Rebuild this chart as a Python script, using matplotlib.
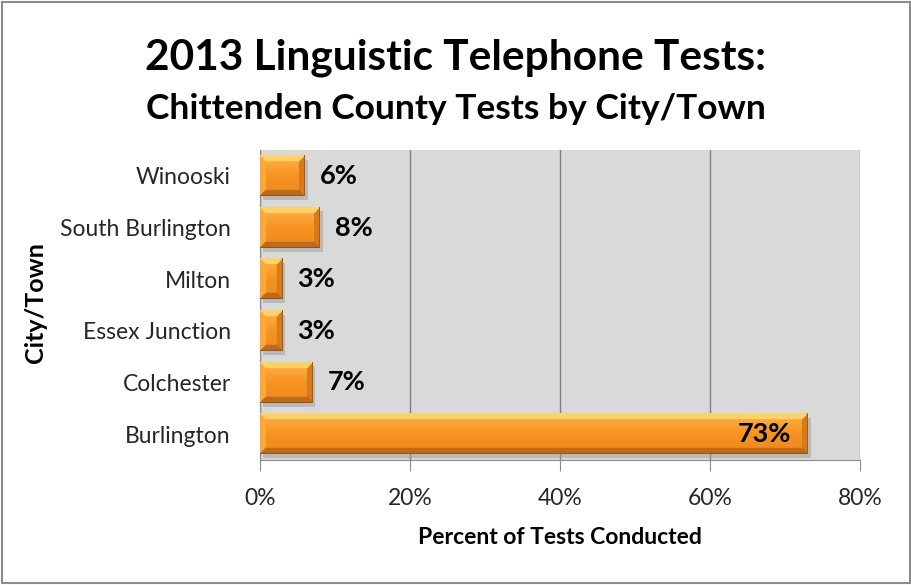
import numpy as np
import matplotlib
matplotlib.use("Agg")
import matplotlib.pyplot as plt
from matplotlib.patches import Rectangle
from matplotlib.transforms import offset_copy
from matplotlib.ticker import FuncFormatter

towns = ["Burlington", "Colchester", "Essex Junction", "Milton",
         "South Burlington", "Winooski"]
shares = [73, 7, 3, 3, 8, 6]
x_ticks = [0, 20, 40, 60, 80]

plt.rcParams["font.family"] = ["Lato", "DejaVu Sans"]

W, H, DPI = 912, 585, 100
fig = plt.figure(figsize=(W / DPI, H / DPI), dpi=DPI)
fig.patch.set_facecolor("white")

ax_left, ax_right, ax_top, ax_bot = 260, 860, 150, 460
ax = fig.add_axes([ax_left / W, 1 - ax_bot / H,
                   (ax_right - ax_left) / W, (ax_bot - ax_top) / H])
ax.set_facecolor("#d9d9d9")

bar_h = 0.78
xmax = 80
px_per_unit = (ax_right - ax_left) / xmax
px_per_row = (ax_bot - ax_top) / len(towns)


def bevel_texture(w_px, h_px):
    """RGBA texture for a bevelled orange bar."""
    w_px = max(int(round(w_px)), 2)
    h_px = max(int(round(h_px)), 2)
    t = np.linspace(0, 1, h_px)[:, None]
    top = np.array([0.99, 0.70, 0.28])
    mid = np.array([0.97, 0.58, 0.13])
    low = np.array([0.93, 0.53, 0.11])
    base = np.where(t < 0.5,
                    top + (mid - top) * (t / 0.5),
                    mid + (low - mid) * ((t - 0.5) / 0.5))
    img = np.broadcast_to(base[:, None, :], (h_px, w_px, 3)).copy()
    b = 6
    ii, jj = np.mgrid[0:h_px, 0:w_px]
    d_top = ii
    d_bot = h_px - 1 - ii
    d_left = jj
    d_right = w_px - 1 - jj
    dmin = np.minimum(np.minimum(d_top, d_bot), np.minimum(d_left, d_right))
    edge = dmin < b
    top_m = edge & (d_top == dmin)
    bot_m = edge & (d_bot == dmin) & ~top_m
    left_m = edge & (d_left == dmin) & ~top_m & ~bot_m
    right_m = edge & (d_right == dmin) & ~top_m & ~bot_m & ~left_m
    img[top_m] = np.array([1.0, 0.82, 0.42])
    img[left_m] = np.array([0.99, 0.66, 0.22])
    img[bot_m] = np.array([0.74, 0.42, 0.11])
    img[right_m] = np.array([0.84, 0.48, 0.11])
    img[-1, :] = np.array([0.60, 0.33, 0.08])
    img[:, -1] = np.array([0.65, 0.36, 0.09])
    return img


ypos = np.arange(len(towns))
shadow_tr = offset_copy(ax.transData, fig=fig, x=3, y=-4, units="dots")
for y, v in zip(ypos, shares):
    ax.add_patch(Rectangle((0, y - bar_h / 2), v, bar_h, transform=shadow_tr,
                           facecolor="#9a9a9a", alpha=0.5, edgecolor="none",
                           zorder=2))
    tex = bevel_texture(v * px_per_unit, bar_h * px_per_row)
    ax.imshow(tex, extent=[0, v, y - bar_h / 2, y + bar_h / 2],
              aspect="auto", interpolation="bilinear", zorder=3)
    if v > 30:
        ax.text(v - 2.2, y, f"{v}%", ha="right", va="center",
                fontsize=19.5, fontweight="bold", color="black", zorder=4)
    else:
        ax.text(v + 2.0, y, f"{v}%", ha="left", va="center",
                fontsize=19.5, fontweight="bold", color="black", zorder=4)

ax.set_xlim(0, xmax)
ax.set_ylim(-0.5, len(towns) - 0.5)
ax.set_xticks(x_ticks)
ax.xaxis.set_major_formatter(FuncFormatter(lambda v, p: f"{v:.0f}%"))
ax.set_yticks(ypos)
ax.set_yticklabels(towns)
ax.grid(axis="x", color="#7f7f7f", linewidth=1.0, zorder=1)
ax.set_axisbelow(True)

for s in ["top", "right"]:
    ax.spines[s].set_visible(False)
ax.spines["left"].set_color("#8c8c8c")
ax.spines["bottom"].set_color("#8c8c8c")
ax.tick_params(axis="x", length=8, color="#8c8c8c", labelsize=16.5,
               labelcolor="#262626", pad=12, direction="out")
ax.tick_params(axis="y", length=0, labelsize=16.5, labelcolor="#262626",
               pad=21)

fig.text(560 / W, 1 - 538 / H, "Percent of Tests Conducted",
         ha="center", va="center", fontsize=16.5, fontweight="bold")
fig.text(36 / W, 1 - 303 / H, "City/Town", ha="center", va="center",
         rotation=90, fontsize=18, fontweight="bold")

fig.text(456 / W, 1 - 58 / H, "2013 Linguistic Telephone Tests:",
         ha="center", va="center", fontsize=30.5, fontweight="bold")
fig.text(456 / W, 1 - 109 / H, "Chittenden County Tests by City/Town",
         ha="center", va="center", fontsize=25.5, fontweight="bold")

# chart frame
fig.add_artist(Rectangle((2 / W, 2 / H), (W - 4) / W, (H - 4) / H,
                         transform=fig.transFigure, fill=False,
                         edgecolor="#8c8c8c", linewidth=1.5))

fig.savefig("out.png", dpi=DPI, facecolor="white")
